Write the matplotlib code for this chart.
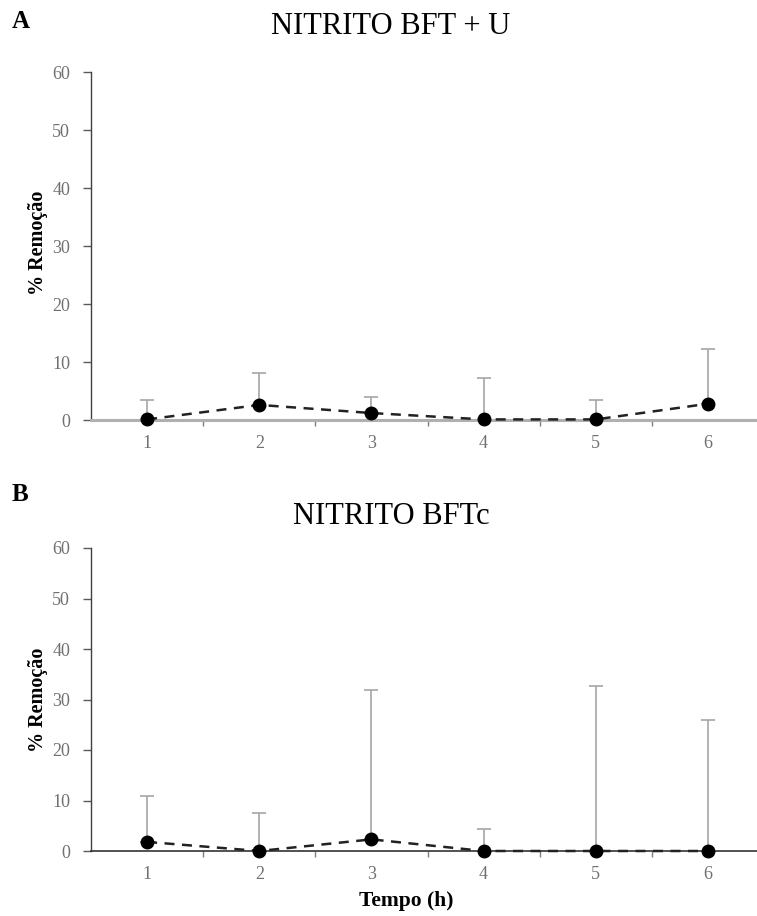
import matplotlib
matplotlib.use("Agg")
import matplotlib.pyplot as plt
import numpy as np

plt.rcParams['font.family'] = ['Liberation Serif', 'DejaVu Serif']

tempo = [1, 2, 3, 4, 5, 6]
tick_labels = ['1', '2', '3', '4', '5', '6']

mean_a = [0.1, 2.6, 1.2, 0.1, 0.1, 2.8]
err_a = [3.3, 5.5, 2.8, 7.1, 3.3, 9.5]

mean_b = [1.8, 0.0, 2.3, 0.0, 0.0, 0.0]
err_b = [9.0, 7.5, 29.5, 4.3, 32.6, 25.9]

titles = ['NITRITO BFT + U', 'NITRITO BFTc']
letters = ['A', 'B']

fig = plt.figure(figsize=(7.57, 9.16), dpi=100)

W, H = 757, 916
def ax_rect(left, right, top, bottom):
    return [left / W, 1 - bottom / H, (right - left) / W, (bottom - top) / H]

axA = fig.add_axes(ax_rect(91, 764, 72, 420))
axB = fig.add_axes(ax_rect(91, 764, 548, 851))

gray = '#a6a6a6'
tickgray = '#7f7f7f'
labelgray = '#707070'

title_y = [26, 516]
letter_y = [22, 495]
ylabel_y = [243, 700]

for i, (ax, m, e) in enumerate([(axA, mean_a, err_a), (axB, mean_b, err_b)]):
    ax.errorbar(tempo, m, yerr=[np.zeros(len(e)), e], fmt='none',
                ecolor=gray, elinewidth=1.2, capsize=5, capthick=1.2, zorder=2)
    ax.plot(tempo, m, linestyle=(0, (4, 3)), color='#222222', lw=1.8,
            marker='o', markersize=9, markerfacecolor='black',
            markeredgecolor='black', zorder=3, clip_on=False)
    ax.set_xlim(0.5, 6.5)
    ax.set_ylim(0, 60)
    ax.set_yticks(range(0, 61, 10))
    ax.set_xticks(tempo)
    ax.set_xticklabels(tick_labels)
    ax.set_xticks(np.arange(1.5, 6.5, 1.0), minor=True)
    ax.tick_params(axis='x', which='major', length=0, pad=11,
                   labelsize=13, labelcolor=labelgray)
    ax.tick_params(axis='x', which='minor', length=4, width=1, color=tickgray)
    ax.tick_params(axis='y', which='major', length=6, width=1, color='#595959',
                   labelsize=13, labelcolor=labelgray, pad=9)
    for s in ['top', 'right']:
        ax.spines[s].set_visible(False)
    ax.spines['left'].set_color('#404040')
    ax.spines['left'].set_linewidth(1.0)
    ax.set_ylabel('% Remoção', fontsize=14.5, fontweight='bold')
    ax.yaxis.set_label_coords(48 / W, 1 - ylabel_y[i] / H,
                              transform=fig.transFigure)
    fig.text(391 / W, 1 - title_y[i] / H, titles[i], fontsize=22,
             ha='center', va='center')
    fig.text(12 / W, 1 - letter_y[i] / H, letters[i], fontsize=18,
             fontweight='bold', va='center')

axA.spines['bottom'].set_color('#b0b0b0')
axA.spines['bottom'].set_linewidth(2.2)
axB.spines['bottom'].set_color('#333333')
axB.spines['bottom'].set_linewidth(1.2)

fig.text(406 / W, 1 - 901 / H, 'Tempo (h)', fontsize=15.5, fontweight='bold',
         ha='center', va='center')

fig.savefig('out.png', dpi=100)
